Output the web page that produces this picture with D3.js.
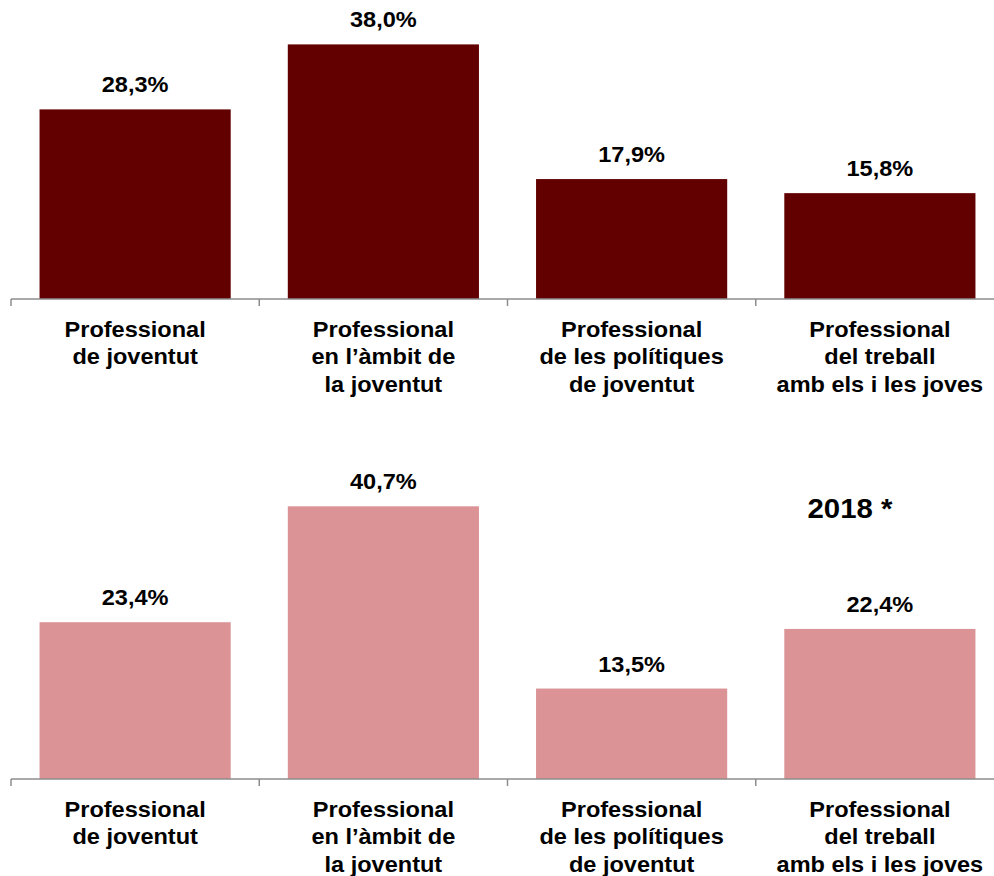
<!DOCTYPE html>
<html>
<head>
<meta charset="utf-8">
<script src="https://cdn.jsdelivr.net/npm/d3@7"></script>
<style>
  html, body { margin: 0; padding: 0; background: #fff; }
  svg { display: block; }
  text { font-family: "Liberation Sans", Arial, sans-serif; font-weight: bold; fill: #000; }
</style>
</head>
<body>
<script>
const categories = [
  ["Professional", "de joventut"],
  ["Professional", "en l’àmbit de", "la joventut"],
  ["Professional", "de les polítiques", "de joventut"],
  ["Professional", "del treball", "amb els i les joves"]
];
const catKeys = ["pj", "amb", "pol", "tre"];
const values2013 = [28.3, 38.0, 17.9, 15.8];
const values2018 = [23.4, 40.7, 13.5, 22.4];
const panelTitles = ["", "2018 *"];

const W = 994, H = 876;
const SX = 1.07;
const svg = d3.select("body").append("svg").attr("width", W).attr("height", H);

const x = d3.scaleBand().domain(catKeys).range([11, 1004]).paddingInner(0.23).paddingOuter(0.115);

const fmt = v => d3.format(".1f")(v).replace(".", ",") + "%";

function panel(values, baseY, color, title) {
  const y = d3.scaleLinear().domain([0, 40]).range([baseY, baseY - 268]);
  const g = svg.append("g");
  g.selectAll("rect").data(values).join("rect")
    .attr("x", (d, i) => x(catKeys[i]))
    .attr("width", x.bandwidth())
    .attr("y", d => y(d))
    .attr("height", d => y(0) - y(d))
    .attr("fill", color);
  g.selectAll("text.val").data(values).join("text")
    .attr("class", "val")
    .attr("transform", (d, i) => `translate(${x(catKeys[i]) + x.bandwidth() / 2},${y(d) - 17}) scale(${SX},1)`)
    .attr("text-anchor", "middle")
    .style("font-size", "22px")
    .text(d => fmt(d));
  // axis
  const axis = g.append("g").attr("transform", `translate(0,${baseY})`);
  axis.append("line").attr("x1", x.range()[0]).attr("x2", x.range()[1])
    .attr("y1", 0).attr("y2", 0).attr("stroke", "#8c8c8c").attr("stroke-width", 1.5);
  const edges = catKeys.map(k => x(k) - x.step() * x.paddingInner() / 2).concat([x.range()[1]]);
  edges[0] = x.range()[0];
  axis.selectAll("line.tick").data(edges).join("line").attr("class", "tick")
    .attr("x1", d => d).attr("x2", d => d).attr("y1", 0).attr("y2", 7)
    .attr("stroke", "#8c8c8c").attr("stroke-width", 1.5);
  categories.forEach((lines, i) => {
    const t = axis.append("text")
      .attr("transform", `translate(${x(catKeys[i]) + x.bandwidth() / 2},38) scale(${SX},1)`)
      .attr("text-anchor", "middle")
      .style("font-size", "22px");
    lines.forEach((ln, j) => {
      t.append("tspan").attr("x", 0)
        .attr("dy", j === 0 ? 0 : 27.5).text(ln);
    });
  });
  if (title) {
    g.append("text")
      .attr("transform", `translate(850,${baseY - 261}) scale(${SX},1)`)
      .attr("text-anchor", "middle").style("font-size", "27.5px").text(title);
  }
}

panel(values2013, 299, "#620000", panelTitles[0]);
panel(values2018, 779, "#DB9396", panelTitles[1]);
</script>
</body>
</html>
